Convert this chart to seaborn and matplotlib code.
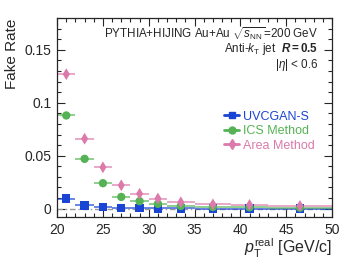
import numpy as np
import pandas as pd
import matplotlib
matplotlib.use('Agg')
import matplotlib.pyplot as plt
import seaborn as sns
from matplotlib.lines import Line2D
from matplotlib.ticker import MultipleLocator, FuncFormatter

# bin edges in pT (GeV/c) and fake rates per method
bin_lo = [20, 22, 24, 26, 28, 30, 32, 35, 39, 43]
bin_hi = [22, 24, 26, 28, 30, 32, 35, 39, 43, 50]
uvcgan = [0.0095, 0.003, 0.0015, 0.0004, 0.0003, 0.0002, 0.0001, 0.0, 0.0, 0.0]
ics = [0.088, 0.047, 0.024, 0.011, 0.007, 0.0045, 0.0025, 0.0015, 0.0012, 0.0008]
area = [0.127, 0.066, 0.039, 0.022, 0.014, 0.0095, 0.006, 0.004, 0.0035, 0.0025]
uvcgan_err = [0.001, 0.0005, 0.0004, 0.0003, 0.0002, 0.0002, 0.0001, 0.0001, 0.0001, 0.0001]
ics_err = [0.002, 0.0015, 0.001, 0.0008, 0.0006, 0.0005, 0.0004, 0.0003, 0.0003, 0.0002]
area_err = [0.003, 0.002, 0.0015, 0.001, 0.0008, 0.0006, 0.0005, 0.0004, 0.0004, 0.0003]

methods = ['UVCGAN-S', 'ICS Method', 'Area Method']
colors = {'UVCGAN-S': '#1a44d4', 'ICS Method': '#55b355', 'Area Method': '#db7aab'}
markers = {'UVCGAN-S': 's', 'ICS Method': 'o', 'Area Method': 'd'}

lo = np.array(bin_lo, dtype=float)
hi = np.array(bin_hi, dtype=float)
centers = (lo + hi) / 2
frames = []
for name, vals, errs in zip(methods, [uvcgan, ics, area], [uvcgan_err, ics_err, area_err]):
    frames.append(pd.DataFrame({'pt': centers, 'xerr': (hi - lo) / 2, 'rate': vals,
                                'err': errs, 'method': name}))
df = pd.concat(frames, ignore_index=True)

sns.set_style('ticks')
plt.rcParams['font.family'] = ['Liberation Sans', 'DejaVu Sans']
plt.rcParams['mathtext.fontset'] = 'custom'
plt.rcParams['mathtext.rm'] = 'Liberation Sans'
plt.rcParams['mathtext.it'] = 'Liberation Sans:italic'
plt.rcParams['mathtext.bf'] = 'Liberation Sans:bold'
plt.rcParams['mathtext.bfit'] = 'Liberation Sans:bold:italic'

fig = plt.figure(figsize=(3.57, 2.59), dpi=100)
ax = fig.add_axes([0.16, 0.162, 0.77, 0.768])

ax.axhline(0, color='#999999', lw=1.0, ls=(0, (4, 2, 1, 2)), zorder=1)

for name in methods:
    sub = df[df['method'] == name]
    ax.errorbar(sub['pt'], sub['rate'], xerr=sub['xerr'], yerr=sub['err'], fmt='none',
                ecolor=colors[name], elinewidth=1.3, alpha=0.7, zorder=2)

sns.scatterplot(data=df, x='pt', y='rate', hue='method', style='method', palette=colors,
                markers=markers, s=36, edgecolor='none', legend=False, ax=ax, zorder=3)

# legend entries: marker with horizontal bar, text in series colour
leg_handles = [Line2D([], [], color=colors[m], marker=markers[m], lw=2, ms=5) for m in methods]
leg = ax.legend(leg_handles, methods, loc='center right', bbox_to_anchor=(0.965, 0.432), frameon=False,
                fontsize=9, handlelength=1.2, handletextpad=0.3, labelspacing=0.2, borderpad=0.1)
for txt, m in zip(leg.get_texts(), methods):
    txt.set_color(colors[m])

ax.set_xlim(20, 50)
ax.set_ylim(-0.008, 0.18)
ax.xaxis.set_major_locator(MultipleLocator(5))
ax.xaxis.set_minor_locator(MultipleLocator(1))
ax.yaxis.set_major_locator(MultipleLocator(0.05))
ax.yaxis.set_minor_locator(MultipleLocator(0.01))
ax.yaxis.set_major_formatter(FuncFormatter(lambda v, p: '0' if abs(v) < 1e-9 else f'{v:g}'))
ax.tick_params(which='both', direction='in', top=True, right=True, labelsize=10, pad=4)
ax.tick_params(which='major', length=6, width=0.8)
ax.tick_params(which='minor', length=3, width=0.8)
for sp in ax.spines.values():
    sp.set_linewidth(0.9)

ax.set_ylabel('Fake Rate', fontsize=11, loc='top')
ax.set_xlabel(r'$p_{\mathrm{T}}^{\mathrm{real}}$ [GeV/c]', fontsize=11.5, loc='right', labelpad=0)

ax.text(0.95, 0.922, r'PYTHIA+HIJING Au+Au $\sqrt{s_{\mathrm{NN}}}$=200 GeV', transform=ax.transAxes,
        ha='right', va='center', fontsize=8.4)
ax.text(0.95, 0.843, r'Anti-$k_{\mathrm{T}}$ jet  $\boldsymbol{R}$$\mathbf{=0.5}$', transform=ax.transAxes,
        ha='right', va='center', fontsize=8.4)
ax.text(0.95, 0.762, r'$|\eta|$ < 0.6', transform=ax.transAxes, ha='right', va='center', fontsize=8.4)

fig.savefig('out.png', dpi=100)
